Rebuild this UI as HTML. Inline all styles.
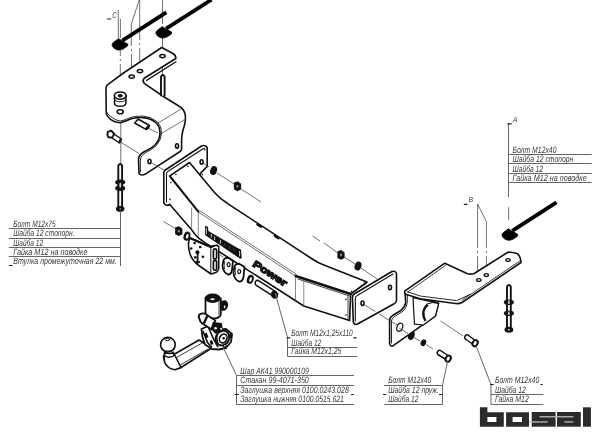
<!DOCTYPE html>
<html><head><meta charset="utf-8">
<style>
html,body{margin:0;padding:0;background:#fff;width:600px;height:436px;overflow:hidden}
svg{display:block;will-change:transform}
.t{font-family:"Liberation Sans",sans-serif;font-style:italic;font-size:9.2px;fill:#383838;text-rendering:geometricPrecision}
.o{fill:#fff;stroke:#111;stroke-linejoin:round;stroke-linecap:round}
.o:not([stroke-width]),.on:not([stroke-width]){stroke-width:1.6}
.on{fill:none;stroke:#111;stroke-linejoin:round;stroke-linecap:round}
.th{fill:none;stroke:#333;stroke-width:0.7}
.tl{fill:none;stroke:#666;stroke-width:1}
.cl{fill:none;stroke:#555;stroke-width:0.7;stroke-dasharray:14 2 2 2}
.blk{fill:#111}
</style></head><body>
<svg width="600" height="436" viewBox="0 0 600 436">
<!-- ============ DRAWING ============ -->
<!-- center lines -->
<g class="th">
 <path d="M118.3 10V38 M120.4 18.8V38 M120.3 50V56 M120.3 59V61 M120.3 64V92"/>
 <path d="M120.8 106V110 M120.8 114V163"/>
 <path d="M139.2 0L131.3 24.2V46 M131.5 49V51 M131.5 54V73 M139.7 0V40 M139.7 43V45 M139.7 48V68"/>
 <path d="M162.5 0V24 M162.5 28V47 M162.5 62V75"/>
 <path d="M120.8 142.2L139.1 153.5"/>
 <path d="M148.5 128.3L158 133"/>
 <path d="M508.6 207.2V219.8 M508.6 250.8V256.5"/>
 <path d="M477.6 204V248 M477.6 251V253 M477.6 256V278 M477.6 204L486.4 221.7V248 M486.4 251V253 M486.4 256V273"/>
</g>
<!-- cable ties -->
<g fill="#000">
 <path d="M166.3 12.3L122.3 40.7" stroke="#000" stroke-width="3.8"/>
 <path d="M211.5 -0.3L166.1 28.6" stroke="#000" stroke-width="3.8"/>
 <path d="M556.5 202.3L512.2 230.8" stroke="#000" stroke-width="3.8"/>
 <path transform="translate(118.6 38.6)" d="M0 0L-5.2 3.8Q-7 5.2 -6.4 7Q-5.5 9.3 -3.7 10.2Q-1.5 11.5 0.6 11.5Q3 11.2 4.9 10.2L8.6 7.6Q9.8 6.4 8.9 5.2L3.9 2.7Z" stroke="#000" stroke-width="0.8"/>
 <path transform="translate(162.4 26.6)" d="M0 0L-5.2 3.8Q-7 5.2 -6.4 7Q-5.5 9.3 -3.7 10.2Q-1.5 11.5 0.6 11.5Q3 11.2 4.9 10.2L8.6 7.6Q9.8 6.4 8.9 5.2L3.9 2.7Z" stroke="#000" stroke-width="0.8"/>
 <path transform="translate(508.5 228.8)" d="M0 0L-5.2 3.8Q-7 5.2 -6.4 7Q-5.5 9.3 -3.7 10.2Q-1.5 11.5 0.6 11.5Q3 11.2 4.9 10.2L8.6 7.6Q9.8 6.4 8.9 5.2L3.9 2.7Z" stroke="#000" stroke-width="0.8"/>
</g>
<!-- left bracket -->
<g>
 <path class="o" d="M161.7 47.5L173.3 53.8Q176 55.5 175.8 58.5L144.2 78.3Q142 80.5 144.2 83.3L165 97.5L178 105.5Q184.5 109 185.3 115Q186 122 183 130Q181.5 136 181.6 140L181.6 149.3Q181.5 151 179.3 152L145 174.3Q141 176 139 173.5L138.5 160Q138.5 154.5 144.1 151.7Q152 148 155.5 144.5Q160 139 160 132.7Q159.5 126 156.7 123.5Q151 118 142.9 117.6Q137 117.3 132 118.5Q125 121.5 120.2 122.7Q113 122.5 108.5 117.5Q106.2 115 106.2 112L106 88Q106.2 85.5 108 84.3L124.2 72.5Z"/>
 <path class="on" stroke-width="1.3" d="M176 61.8L146.6 80.4"/>
 <path class="on" stroke-width="0.9" d="M106.8 112.5Q108 115.5 112.6 117.8Q116 120.5 120.2 121Q124 120.5 128 118.5Q134 115.8 142.9 116Q151 116.5 157.5 122Q161.5 126 161.6 132.7Q161.5 139.5 156.5 145.5Q152 149.5 145 153Q140.3 155.5 140.3 160L140.5 172"/>
 <ellipse cx="162.5" cy="56.099999999999994" rx="2.7" ry="1.7" class="on" stroke-width="1.5"/>
 <ellipse cx="140" cy="71.1" rx="2.7" ry="1.7" class="on" stroke-width="1.5"/>
 <ellipse cx="131.7" cy="76.6" rx="2.7" ry="1.7" class="on" stroke-width="1.5"/>
 <ellipse cx="120.2" cy="111.7" rx="3" ry="2" class="on" stroke-width="1.6"/>
 <ellipse cx="177" cy="145.9" rx="1.5" ry="2.2" class="on" stroke-width="1.6" fill="#777"/>
 <ellipse cx="149.5" cy="161.5" rx="1.5" ry="2.2" class="on" stroke-width="1.6" fill="#777"/>
 <!-- spacer -->
 <path class="o" stroke-width="1.5" d="M114.5 95.6V103Q114.5 106.3 120.2 106.3Q125.9 106.3 125.9 103V95.6Z"/>
 <path class="on" stroke-width="1.1" d="M114.5 99Q115 101.6 120.2 101.8Q125.4 101.6 125.9 99"/>
 <ellipse cx="120.2" cy="95.6" rx="5.8" ry="3.6" class="o" stroke-width="1.6"/>
 <ellipse cx="120.2" cy="95.8" rx="2.6" ry="1.7" fill="#111"/>
 <!-- vertical bolt top -->
 <path class="o" stroke-width="1.9" d="M161 95.5V76.5Q162.8 73.5 164.6 76.5V95.5"/>
 <!-- slot bolt -->
 <path class="o" stroke-width="1.5" d="M137.3 120L134.6 123L146.5 129.6Q149 128 149.5 125.5L138 119Z"/>
 <path d="M145.8 129.3L148.8 125.8" stroke="#111" stroke-width="2.2"/>
 <!-- bolt left -->
 <path class="o" stroke-width="1.5" d="M112.5 133L121.5 139L119.5 143L110.5 137Z"/>
 <path d="M120.5 139.3L119.2 142.8" stroke="#111" stroke-width="2.2"/>
 <path class="o" stroke-width="1.9" d="M107.8 131.8L111.2 130.7L114.3 134L112 137.6L108.4 137.2Q106.8 134.5 107.8 131.8Z"/>
 <!-- vertical bolt bottom -->
 <path class="o" stroke-width="1.9" d="M118.3 210.5V165.5Q120.2 162.5 122.1 165.5V210.5Z"/>
 <ellipse cx="120.2" cy="182.2" rx="5" ry="2.7" fill="#111"/>
 <ellipse cx="120.2" cy="188.3" rx="5" ry="2.7" fill="#111"/>
 <ellipse cx="120.2" cy="208.8" rx="4.3" ry="2.9" fill="#111"/>
 <path d="M120.2 183V187.5 M120.2 208.5V209.5" stroke="#fff" stroke-width="1.2"/>
</g>
<!-- beam assembly -->
<g>
 <!-- left flange plate -->
 <path class="o" d="M164.6 170.5L201.5 146Q205 144.5 207.2 147.5L207.2 165.7Q207 167.5 205.6 168.1L170 204.5Q167 206.5 164.5 204L163.8 202.6L163.8 172.1Z"/>
 <path class="on" stroke-width="1.1" d="M166.5 202V174Q166.5 172 168.5 171L203.5 148.5Q205 148 205 150"/>
 <ellipse cx="201.6" cy="162" rx="1.5" ry="2.2" class="on" stroke-width="1.6" fill="#777"/>
 <!-- beam top face -->
 <path fill="#fff" d="M169.5 176.1L189.5 162.5L214.5 192.5Q220 199 228 203.8L311.5 258.5Q317.5 262.8 324.5 265.2L367 282.1L350.6 294L349.6 320.6L303.8 306L204.5 242.3Q198.5 238.8 196 235.6Q193.5 232.2 191.4 229.4L169.6 204.2Z"/>
 <path class="on" d="M169.5 176.1L189.5 162.5L214.5 192.5Q220 199 228 203.8L311.5 258.5Q317.5 262.8 324.5 265.2L367 282.1L350.6 294L349.6 320.6L303.8 306L204.5 242.3Q198.5 238.8 196 235.6Q193.5 232.2 191.4 229.4L169.6 204.2"/>
 <path fill="none" stroke="#333" stroke-width="0.7" d="M198.3 212L295.5 276 M199.3 210.4L296.5 274.4"/>
 <path fill="none" stroke="#555" stroke-width="0.7" d="M191.6 207.6V229.4 M198.3 212.2V236.3 M295.5 276V302.3 M303.8 281.2V306"/>
 <path class="on" stroke-width="2" d="M170.5 177L198.3 211.7"/>
 <path d="M257.5 224.3L261 226.6 M275 235.8L278.5 238.1" stroke="#111" stroke-width="2.6" stroke-linecap="round"/>
 <path class="on" stroke-width="2.6" d="M295.6 275.9L350.6 294"/>
 <path class="on" stroke-width="0.8" d="M298 279L349 295.8 M348 296V319 M350.6 294L366.5 283.5"/>
 <g fill="#111">
  <circle cx="175.9" cy="174.5" r="0.8"/><circle cx="187.9" cy="166.2" r="0.8"/><circle cx="202.2" cy="174.6" r="0.8"/><circle cx="170.8" cy="182.6" r="0.8"/><circle cx="170" cy="199.4" r="0.8"/>
  <circle cx="346" cy="299.5" r="0.8"/><circle cx="346" cy="315" r="0.8"/><circle cx="364.3" cy="283" r="0.8"/><circle cx="351.5" cy="291.3" r="0.8"/>
 </g>
 <!-- logos -->
 <path d="M205 225.8L208 227L208.4 231L238.5 248.4L241 249.5L241.8 258L240.2 258.8L205 234.9Z" fill="#111"/>
 <path d="M206.3 227.8V234.3 M211.3 233.9V237.6 M214.6 236.4V240.1 M220.4 239.7V243.8 M239.6 250.8V256.5" stroke="#fff" stroke-width="0.8"/>
 <path d="M225 243V246.5 M229.5 246V249 M234 248.5V251.5" stroke="#666" stroke-width="0.6"/>
 <g transform="translate(256 259.6) rotate(33)">
  <text x="0" y="7.2" font-family="Liberation Sans" font-weight="bold" font-size="9.6" textLength="38.5" lengthAdjust="spacingAndGlyphs" fill="#fff" stroke="#111" stroke-width="1.3">Power</text>
 </g>
 <!-- right flange plate -->
 <path class="o" d="M352.4 297.7Q352.5 294.5 355 293.5L392 271.5Q396 270.5 396.5 274L396.5 300.5Q396.3 303 393.7 304L357.5 324Q353.8 325.5 353.3 321.6Z"/>
 <path class="on" stroke-width="1.1" d="M355.3 321V298.5Q355.3 296.5 357.3 295.5L393 274"/>
 <ellipse cx="390" cy="287.5" rx="1.5" ry="2.2" class="on" stroke-width="1.6" fill="#777"/>
 <ellipse cx="362.5" cy="303.2" rx="1.5" ry="2.2" class="on" stroke-width="1.6" fill="#777"/>
</g>
<!-- nuts & washers -->
<g fill="#111">
 <ellipse cx="213.6" cy="170.5" rx="3.3" ry="4.6" transform="rotate(20 213.6 170.5)"/>
 <path d="M234.5 183L237.5 182L240.5 184L240.5 189L237.5 190.5L234.5 189Z" stroke="#111" stroke-width="1.2"/>
 <path d="M338 251.7L341 250.7L344 252.7L344 257.7L341 259.2L338 257.7Z" stroke="#111" stroke-width="1.2"/>
 <ellipse cx="358" cy="266" rx="3.3" ry="4.6" transform="rotate(20 358 266)"/>
 <path d="M175.8 227.9L178.8 226.9L181.8 228.9L181.8 233.9L178.8 235.4L175.8 233.9Z" stroke="#111" stroke-width="1.2"/>
 <ellipse cx="186.9" cy="236.1" rx="3.3" ry="4.6" transform="rotate(20 186.9 236.1)"/>
 <ellipse cx="250.3" cy="279.3" rx="3.3" ry="4.6" transform="rotate(20 250.3 279.3)"/>
 <ellipse cx="411.3" cy="335.4" rx="3.2" ry="4.6" transform="rotate(20 411.3 335.4)"/>
 <ellipse cx="423.4" cy="342.7" rx="2.7" ry="3.5" transform="rotate(20 423.4 342.7)"/>
</g>
<g fill="#fff">
 <ellipse cx="187.2" cy="236.3" rx="1.2" ry="2.4" transform="rotate(20 187.2 236.3)"/>
 <ellipse cx="250.6" cy="279.5" rx="1.2" ry="2.4" transform="rotate(20 250.6 279.5)"/>
</g>
<g fill="#888">
 <ellipse cx="237.5" cy="186.3" rx="1.1" ry="1.4"/>
 <ellipse cx="341" cy="255" rx="1.1" ry="1.4"/>
 <ellipse cx="178.8" cy="231.2" rx="1.1" ry="1.4"/>
</g>
<!-- keyhole bracket -->
<g>
 <path class="o" d="M190.5 238.3L210.8 247L213.5 246Q217 244.5 218.7 246.5L218.7 268.5Q218.5 271 216 272.5L211 274L198.8 265.5Q192.5 261 190 254Q187.8 246 188.7 241.5Q189.3 238.5 190.5 238.3Z"/>
 <path class="on" stroke-width="2.2" d="M190.5 238.3L210.8 247L213.5 246"/>
 <path class="on" stroke-width="1" d="M210.8 247V273.5"/>
 <rect x="213.4" y="248.8" width="3.2" height="10.4" rx="1.6" class="on" stroke-width="1.7"/>
 <rect x="213.4" y="260.4" width="3.2" height="10" rx="1.6" class="on" stroke-width="1.7"/>
 <circle cx="197.4" cy="252.3" r="2" fill="#111"/>
 <path d="M197.6 252.5V264 M195.3 261.8H200" stroke="#111" stroke-width="1.8"/>
 <g fill="#111"><circle cx="194.6" cy="243" r="1.3"/><circle cx="200.2" cy="247" r="1.3"/><circle cx="191.2" cy="248.5" r="1.3"/><circle cx="202.9" cy="256.7" r="1.3"/><circle cx="195.3" cy="257.4" r="1.3"/></g>
 <!-- eye plates -->
 <path class="o" stroke-width="1.8" d="M223.5 260Q226 256.5 229.5 258.5L233 261L232 270Q231 275 228 274.5Q223 272 222.5 266Z"/>
 <path class="on" stroke-width="0.8" d="M224.6 261.5Q223.8 266 224.5 269"/>
 <ellipse cx="228.6" cy="264.5" rx="1.5" ry="2" class="on" stroke-width="1.25"/>
 <path class="o" stroke-width="1.8" d="M234.5 266Q237 262.5 240.5 264.5L244.5 267L243.5 277Q242.5 282 239 281.5Q234 279 233.5 273Z"/>
 <path class="on" stroke-width="0.8" d="M235.6 267.5Q234.8 272 235.5 275"/>
 <ellipse cx="239.2" cy="271.5" rx="1.5" ry="2" class="on" stroke-width="1.25"/>
 <!-- long bolt -->
 <path class="o" stroke-width="1.5" d="M255.8 281.2Q254.3 283.8 256.3 285.3L272 295.3L274.5 290.8L257.8 280.2Q256.6 280.2 255.8 281.2Z"/>
 <path d="M272.5 291L276 290.8L278.3 293.5L277.8 297.5L274.5 299L271.5 297L271 293Z" fill="#111"/>
 <path d="M275.5 293L276.3 296" stroke="#999" stroke-width="0.9"/>
</g>
<!-- tow ball -->
<g>
 <!-- arm tube -->
 <path class="o" d="M173 355L199 340L211.7 348L181 367.5Q175 370 169 367Q163.5 362 163.5 356Q165 353 173 355Z"/>
 <path class="on" stroke-width="0.8" d="M176.5 357.5L203 342.5 M179.5 365.5L208 349 M173.5 357Q178.5 360 178 366"/>
 <path class="o" d="M164.5 352.5Q164 358 164.5 362Q167 368.5 175 369.8L181 367.5L175 355.5Z"/>
 <circle cx="167.9" cy="344.7" r="7.3" class="o"/>
 <ellipse cx="167.5" cy="339.6" rx="2.2" ry="1.1" class="on" stroke-width="1"/>
 <path class="on" stroke-width="0.9" d="M161.5 349Q168 353.5 174.5 349"/>
 <path class="o" stroke-width="1.4" d="M164.8 352.2Q169 355 173.6 352.2L173.6 356Q169 358.5 164.8 356Z"/>
 <!-- socket -->
 <ellipse cx="223.8" cy="305.5" rx="4.2" ry="5.4" fill="#111" transform="rotate(15 223.8 305.5)"/>
 <ellipse cx="224.6" cy="306.8" rx="0.8" ry="1.4" fill="#fff"/>
 <path class="o" stroke-width="1.8" d="M205.5 298.5V314.5Q209 318.5 214 318.5Q220 318 220.8 314.5V298.5Z"/>
 <path d="M219 300V315" stroke="#111" stroke-width="0.8"/>
 <ellipse cx="212.7" cy="298.3" rx="8" ry="4.7" fill="#111"/>
 <ellipse cx="212.5" cy="299.3" rx="2.2" ry="1" fill="#fff"/>
 <!-- lower body -->
 <path class="o" stroke-width="1.8" d="M201.5 329L208 326L217 330L226 329L232 334L231 342L226 348L219 349.5L212 349L205 344.5L202.5 337Z"/>
 <path d="M203 331L207.5 342.5L212 347.5 M208.5 327.5L213.5 339L218 347" stroke="#111" stroke-width="1.6" fill="none"/>
 <path d="M204 334L206.5 332.5L208.5 337L206 338.5Z M209.5 341L212 340L213.5 344L211 345Z" fill="#111"/>
 <ellipse cx="222.5" cy="338" rx="6.6" ry="7.6" fill="#fff" stroke="#111" stroke-width="2" transform="rotate(25 222.5 338)"/>
 <ellipse cx="223.2" cy="338.4" rx="3.6" ry="4.6" fill="none" stroke="#111" stroke-width="1.6" transform="rotate(25 223.2 338.4)"/>
 <path d="M217.5 333Q216 338 218 343" stroke="#111" stroke-width="1" fill="none"/>
 <circle cx="223.6" cy="338.2" r="1.2" fill="#111"/>
 <circle cx="230.3" cy="336" r="2.2" fill="#111"/>
 <circle cx="224.8" cy="345.8" r="2" fill="#111"/>
 <circle cx="224.8" cy="345.8" r="0.8" fill="#fff"/>
 <!-- cross cylinder -->
 <g transform="translate(0.3 2.5)">
 <path class="o" stroke-width="1.9" d="M199 316Q197.5 313 200 311.5Q203 310 206 312L215 318L211.5 327L202 321Q199.5 319 199 316Z"/>
 <path d="M207 313.5L203.5 321" stroke="#111" stroke-width="2.4"/>
 <path d="M212.5 319.5L221.5 320.5L223 329.5L214.5 331L210.5 326Z" fill="#111"/>
 <circle cx="215.3" cy="325.8" r="1.3" fill="#fff"/>
 <circle cx="220.8" cy="326.3" r="1" fill="#fff"/>
 </g>
</g>
<!-- right bracket -->
<g>
 <!-- vertical plate -->
 <path class="o" d="M404.9 291.2L405.7 302.5Q405 307 400.9 310.5L392.9 315.3Q389.6 317.5 389.6 320L389.6 343.5Q390 346.5 392.9 345.9L420.2 326.6L435.4 316.1L438.6 303.3Z"/>
 <path class="on" stroke-width="0.9" d="M407.3 292V302.5Q406.5 309 402 312L394.5 316.5Q391.5 318.5 391.5 321L391.5 343"/>
 <ellipse cx="399.8" cy="327.2" rx="2.8" ry="4.2" class="on" stroke-width="1.2" transform="rotate(20 399.8 327.2)"/>
 <!-- gusset -->
 <path class="o" stroke-width="1.2" d="M413 297.7L414.5 324.2L423.4 325L435.4 316.1L438.6 303.3Z"/>
 <path class="on" stroke-width="1" d="M426.6 304.1Q433 301.5 438 303 M426.6 304.1Q421 310 423.4 318"/>
 <path d="M428 305Q423 309 423.5 314Q423.5 318 425.5 321" stroke="#111" stroke-width="2.2" fill="none"/>
 <!-- top plate -->
 <path class="o" d="M405 290.8L444.8 263.2L467.5 273.8Q470.5 274.5 473.8 273.8L507.5 252.5Q513 251.5 517.5 253.8Q520.5 256 521 262.5L462 302.5Q459 304 455.5 303.5L420.2 298.7L405.7 294.3Q404 292.5 405 290.8Z"/>
 <path class="on" stroke-width="0.8" d="M407.5 292.3L445.5 265.3 M520.5 260.5L462 300.2"/>
 <path class="on" stroke-width="0.9" d="M407.6 291.8L420.2 296L456.7 300.6L470 294.5"/>
 <ellipse cx="478.8" cy="280" rx="2.2" ry="1.4" class="on" stroke-width="1.25"/>
 <ellipse cx="486.3" cy="275" rx="2.2" ry="1.4" class="on" stroke-width="1.25"/>
 <ellipse cx="508" cy="260" rx="2.2" ry="1.4" class="on" stroke-width="1.25"/>
</g>
<!-- right vertical bolt -->
<g>
 <path class="o" stroke-width="1.9" d="M507 330V286.5Q508.9 283.5 510.8 286.5V330Z"/>
 <ellipse cx="508.9" cy="302.2" rx="5" ry="2.8" fill="#111"/>
 <ellipse cx="508.9" cy="313.2" rx="5" ry="2.8" fill="#111"/>
 <ellipse cx="508.9" cy="329.8" rx="4.4" ry="3" fill="#111"/>
 <path d="M508.9 300.5V304 M508.9 311.5V315" stroke="#fff" stroke-width="1.2"/>
 <path d="M508.9 329V330.5" stroke="#fff" stroke-width="1.2"/>
</g>
<!-- right small bolts -->
<g>
 <path class="o" stroke-width="1.5" d="M438 351Q436 353.5 438.5 355L446 359.5L448 355.5L440.5 350.5Q439 350 438 351Z"/>
 <ellipse cx="448.2" cy="358.7" rx="2.4" ry="3.2" class="o" stroke-width="2" transform="rotate(30 448.2 358.7)"/>
 <path class="o" stroke-width="1.5" d="M465.5 335.5Q463.5 338 466 339.5L472.5 344L474.5 340L468 335Q466.5 334.5 465.5 335.5Z"/>
 <ellipse cx="475.1" cy="343.2" rx="2.4" ry="3.2" class="o" stroke-width="2" transform="rotate(30 475.1 343.2)"/>
</g>
<!-- lines on top of parts -->
<g class="th">
 <path d="M156.7 123.9L181 109 M160.5 134L184 120"/>
 <path d="M150 162L164 170"/>
 <path d="M201.6 162L209 167 M217 173L234 184 M241 189L261 202"/>
 <path d="M312.5 236L320 241 M324 243L338 253 M344 257L355 264 M361 268L377 279"/>
 <path d="M399.3 328.2L408 333.5 M414 337.5L420 341 M426 344.5L433 349"/>
 <path d="M440.5 321L463 336"/>
 <path d="M364 304.5L375 311.5 M379 314L397 325"/>
 <path d="M163.5 221.5L176 229"/>
 <path d="M219.5 254.5L223.5 257.5"/>
</g>
<!-- ============ TEXT BLOCKS ============ -->
<g class="tl">
 <!-- left block -->
 <path d="M120.5 211V266 M8.8 228.5H120.5 M8.8 238.5H120.5 M8.8 247.5H120.5 M8.8 256.5H120.5"/>
 <!-- A block -->
 <path d="M508.5 123.5V197 M508.5 154.5H591.7 M508.5 163.5H591.7 M508.5 173.5H591.7 M508.5 182.5H591.7"/>
 <!-- beam bolt block -->
 <path d="M276 296L287.5 337.5V356.5 M287.5 347.5H357.3 M287.5 356.5H357.3"/>
 <!-- ball block -->
 <path d="M223 347L236.5 375.5V404.5 M236.5 375.5H354 M236.5 385.5H354 M236.5 404.5H354"/>
 <!-- right bolt 1 -->
 <path d="M447.5 361.5L442.5 385.5V404.5 M384.1 385.5H442.5 M384.1 404.5H442.5"/>
 <!-- right bolt 2 -->
 <path d="M476.5 347L491 384.5V404.5 M491 394.5H543.3 M491 404.5H543.3"/>
</g>
<g stroke="#222" stroke-width="1.2">
 <path d="M8.8 265.5H12.6 M507.4 123.8H511.7 M353.3 337.8H356.7 M286.6 337.8H290.3 M234.9 394.5H239 M351 394.5H353.8 M383 394.5H386.4 M439 394.5H442.5 M540.4 384.5H542.8 M490.2 384.5H493.8 M107 19H111.3 M463.8 204.3H467.5"/>
</g>
<g class="t">
 <text x="13.2" y="226.6" textLength="42.5" lengthAdjust="spacingAndGlyphs">Болт М12х75</text>
 <text x="13.2" y="236.4" textLength="61.3" lengthAdjust="spacingAndGlyphs">Шайба 12 стопорн.</text>
 <text x="13.2" y="245.6" textLength="30" lengthAdjust="spacingAndGlyphs">Шайба 12</text>
 <text x="13.2" y="254.7" textLength="74.3" lengthAdjust="spacingAndGlyphs">Гайка М12 на поводке</text>
 <text x="13.2" y="264.2" textLength="103.6" lengthAdjust="spacingAndGlyphs">Втулка промежуточная 22 мм.</text>

 <text x="512.5" y="152.5" textLength="44" lengthAdjust="spacingAndGlyphs">Болт М12х40</text>
 <text x="512.5" y="162" textLength="60.8" lengthAdjust="spacingAndGlyphs">Шайба 12 стопорн</text>
 <text x="512.5" y="171.7" textLength="30.5" lengthAdjust="spacingAndGlyphs">Шайба 12</text>
 <text x="512.5" y="180.8" textLength="74.2" lengthAdjust="spacingAndGlyphs">Гайка М12 на поводке</text>

 <text x="291.3" y="336.3" textLength="61.4" lengthAdjust="spacingAndGlyphs">Болт М12х1,25х110</text>
 <text x="291.3" y="345.7" textLength="30" lengthAdjust="spacingAndGlyphs">Шайба 12</text>
 <text x="291.3" y="354.3" textLength="50" lengthAdjust="spacingAndGlyphs">Гайка М12х1,25</text>

 <text x="240.3" y="373.8" textLength="68.5" lengthAdjust="spacingAndGlyphs">Шар АК41 990000109</text>
 <text x="240.3" y="383" textLength="68.5" lengthAdjust="spacingAndGlyphs">Стакан 99-4071-350</text>
 <text x="240.3" y="392.9" textLength="108.5" lengthAdjust="spacingAndGlyphs">Заглушка верхняя 0100.0243.028</text>
 <text x="240.3" y="401.7" textLength="103.5" lengthAdjust="spacingAndGlyphs">Заглушка нижняя 0100.0515.621</text>

 <text x="388.2" y="382.8" textLength="43.1" lengthAdjust="spacingAndGlyphs">Болт М12х40</text>
 <text x="388.2" y="392.8" textLength="50.8" lengthAdjust="spacingAndGlyphs">Шайба 12 пруж.</text>
 <text x="388.2" y="402.1" textLength="30.3" lengthAdjust="spacingAndGlyphs">Шайба 12</text>

 <text x="494.9" y="382.8" textLength="44.4" lengthAdjust="spacingAndGlyphs">Болт М12х40</text>
 <text x="494.9" y="392.8" textLength="30.9" lengthAdjust="spacingAndGlyphs">Шайба 12</text>
 <text x="494.9" y="402.1" textLength="33.9" lengthAdjust="spacingAndGlyphs">Гайка М12</text>

 <text x="512.8" y="122" font-size="7">A</text>
 <text x="112.3" y="17.6" font-size="8.5" textLength="4.4" lengthAdjust="spacingAndGlyphs">C</text>
 <text x="468.5" y="202.3" font-size="7">B</text>
</g>
<!-- ============ LOGO ============ -->
<g fill="#2b2b2b" fill-rule="evenodd">
 <path d="M479.9 407.3H487.4V412.2H503.8V426.7H479.9Z M487.4 417.1V421.9H496.4V417.1Z"/>
 <path d="M506.1 412.2H529V426.7H506.1Z M512.6 417.1V421.9H522V417.1Z"/>
 <rect x="531.7" y="412" width="23.9" height="14.7"/>
 <rect x="557" y="412" width="23.8" height="14.7"/>
 <rect x="583" y="407.3" width="7.9" height="19.4"/>
</g>
<g fill="#bbb">
 <rect x="539.5" y="416.1" width="34" height="1.3"/>
 <rect x="529" y="421.3" width="18.6" height="1.3"/>
 <rect x="564.4" y="421.3" width="8.9" height="1.3"/>
</g>
</svg>
</body></html>
